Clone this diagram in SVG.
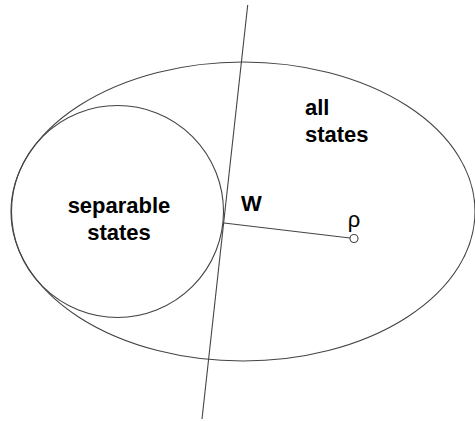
<svg xmlns="http://www.w3.org/2000/svg" width="475" height="421" viewBox="0 0 475 421">
<style>
.s{fill:none;stroke:#444;stroke-width:1.1}
.t{font-family:"Liberation Sans",Arial,sans-serif;font-weight:bold;font-size:22px;fill:#000}
.r{font-family:"Liberation Sans",Arial,sans-serif;font-size:22px;fill:#000}
</style>
<rect width="475" height="421" fill="#fff"/>
<g id="all-states">
<ellipse class="s" cx="243" cy="211.5" rx="232" ry="149.5"/>
<text class="t" x="305" y="115">all</text>
<text class="t" x="305" y="142">states</text>
</g>
<g id="separable-states">
<circle class="s" cx="117.5" cy="211.5" r="106"/>
<text class="t" x="119" y="213" text-anchor="middle">separable</text>
<text class="t" x="119" y="240" text-anchor="middle">states</text>
</g>
<g id="connectors">
<line class="s" x1="247.7" y1="5" x2="202" y2="419"/>
<line class="s" x1="224" y1="223" x2="350" y2="238"/>
</g>
<g id="W">
<text class="t" x="241" y="211" font-size="21">W</text>
</g>
<g id="rho">
<circle class="s" cx="354" cy="238.5" r="4" fill="#fff"/>
<text class="r" x="354" y="227" text-anchor="middle">ρ</text>
</g>
</svg>
